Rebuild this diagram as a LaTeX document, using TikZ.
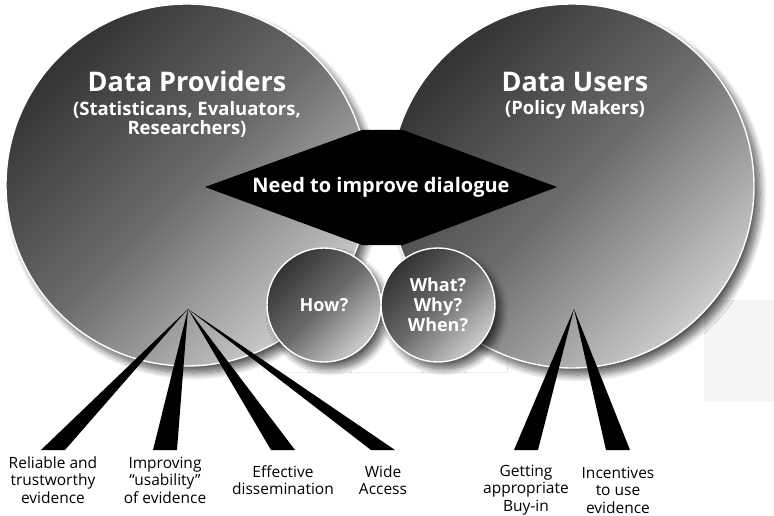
\documentclass[tikz,border=0pt]{standalone}
\usepackage{fontspec}
\setmainfont{Open Sans}
\usepackage{tikz}
\usetikzlibrary{calc,positioning,shadows.blur}

\begin{document}
\begin{tikzpicture}[x=1pt,y=-1pt,
    disc/.style={circle,draw=white,line width=1.4pt,inner sep=0pt,
      top color=black!80,bottom color=black!20,middle color=black!58,shading angle=45,
      blur shadow={shadow xshift=6pt,shadow yshift=-7pt,shadow blur radius=7pt,shadow blur steps=14,shadow opacity=65}},
    head/.style={text=white,font=\bfseries\fontsize{27}{30}\selectfont,anchor=base},
    sub/.style={text=white,align=center,inner sep=0pt,font=\bfseries\fontsize{18.5}{19}\selectfont},
    ask/.style={text=white,align=center,font=\bfseries\fontsize{18}{20}\selectfont},
    aim/.style={align=center,inner sep=0pt,font=\fontsize{15.5}{17.5}\selectfont}]
  \useasboundingbox (0,0) rectangle (774,516);
  \fill[gray!8] (704,300) rectangle (774,402);
  \draw[gray!12] (263,243) rectangle (507,372);
  % the two groups
  \node[disc,minimum size=362pt] (prov) at (187,185) {};
  \node[disc,minimum size=364pt] (users) at (572,186) {};
  \node[head] (provhead) at (187,92) {Data Providers};
  \node[sub] (provsub) at (187,119) {(Statisticans, Evaluators,\\Researchers)};
  \node[head] (usershead) at (575,92) {Data Users};
  \node[sub] (userssub) at (575,110) {(Policy Makers)};
  % dialogue
  \fill (205,187) -- (362,130) -- (403,130) -- (557,187) -- (403,245) -- (362,245) -- cycle;
  \node[text=white,font=\bfseries\fontsize{20}{22}\selectfont,anchor=base] (need) at (381,193) {Need to improve dialogue};
  \node[disc,minimum size=114pt,ask] (how) at (324,305) {How?};
  \node[disc,minimum size=114pt,ask] (what) at (438,305) {What?\\Why?\\When?};
  % spokes
  \coordinate (pa) at (188,309);
  \coordinate (ua) at (574,309);
  \coordinate (base) at (0,450);
  \foreach \x/\n/\t in {53/l1/{Reliable and\\trustworthy\\evidence},165/l2/{Improving\\“usability”\\of evidence},
      283/l3/{Effective\\dissemination},383/l4/{Wide\\Access}}{
    \node[aim] (\n) at (\x,480) {\t};
    \fill (pa) -- ($(\n |- base)+(-12,0)$) -- ($(\n |- base)+(12,0)$) -- cycle;
  }
  \foreach \x/\n/\t in {526/r1/{Getting\\appropriate\\Buy-in},618/r2/{Incentives\\to use\\evidence}}{
    \node[aim] (\n) at (\x,490) {\t};
    \fill (ua) -- ($(\n |- base)+(-12,0)$) -- ($(\n |- base)+(12,0)$) -- cycle;
  }
\end{tikzpicture}
\end{document}
